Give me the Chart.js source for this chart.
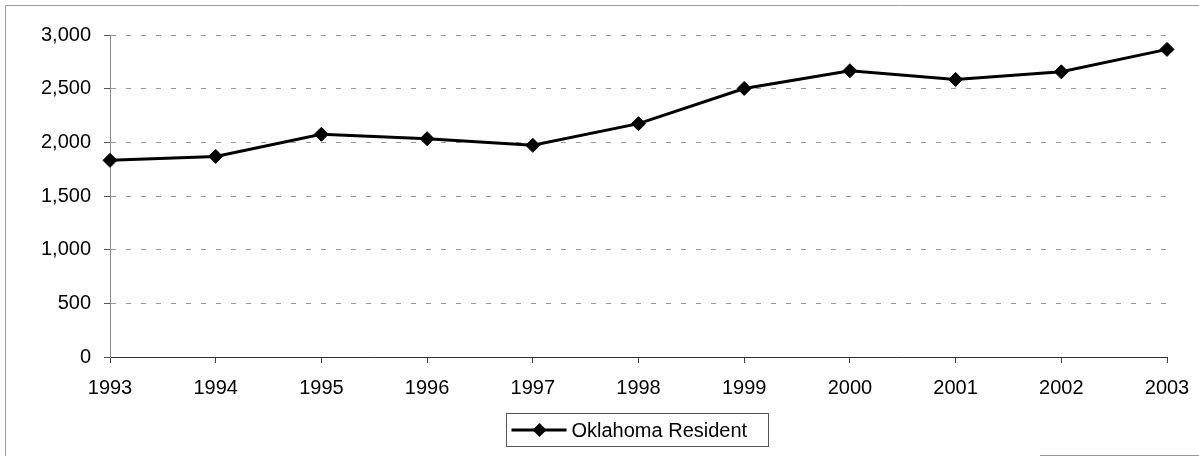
<!DOCTYPE html>
<html>
<head>
<meta charset="utf-8">
<script src="https://cdn.jsdelivr.net/npm/chart.js@4.4.1/dist/chart.umd.min.js"></script>
<style>
  html, body { margin: 0; padding: 0; background: #fff; }
  #wrap { position: relative; width: 1199px; height: 456px; }
</style>
</head>
<body>
<div id="wrap"><canvas id="c" width="1199" height="456"></canvas></div>
<script>
// ---- Data ----
const years = ['1993','1994','1995','1996','1997','1998','1999','2000','2001','2002','2003'];
const seriesName = 'Oklahoma Resident';
const residentValues = [1832, 1869, 2075, 2034, 1972, 2174, 2502, 2667, 2586, 2657, 2866];
const yTicks = [0, 500, 1000, 1500, 2000, 2500, 3000];

const FONT = '"Liberation Sans", Arial, sans-serif';

const framePlugin = {
  id: 'frame',
  beforeDraw(chart) {
    const ctx = chart.ctx;
    ctx.save();
    ctx.fillStyle = '#fff';
    ctx.fillRect(0, 0, chart.width, chart.height);
    ctx.strokeStyle = '#9a9a9a';
    ctx.lineWidth = 1;
    ctx.beginPath();
    ctx.moveTo(5.5, chart.height);
    ctx.lineTo(5.5, 5.5);
    ctx.lineTo(chart.width, 5.5);
    ctx.moveTo(1040, 455.5);
    ctx.lineTo(chart.width, 455.5);
    ctx.stroke();
    ctx.restore();
  }
};

const legendPlugin = {
  id: 'boxLegend',
  afterDraw(chart) {
    const ctx = chart.ctx;
    const ds = chart.data.datasets[0];
    const bx = 506.5, by = 413.5, bw = 262, bh = 33;
    const cy = by + bh / 2;
    ctx.save();
    ctx.strokeStyle = '#555';
    ctx.lineWidth = 1;
    ctx.strokeRect(bx, by, bw, bh);
    ctx.strokeStyle = '#000';
    ctx.lineWidth = 3;
    ctx.beginPath();
    ctx.moveTo(bx + 5, cy);
    ctx.lineTo(bx + 60, cy);
    ctx.stroke();
    const mx = bx + 33;
    ctx.fillStyle = '#000';
    ctx.beginPath();
    ctx.moveTo(mx - 7, cy);
    ctx.lineTo(mx, cy - 7);
    ctx.lineTo(mx + 7, cy);
    ctx.lineTo(mx, cy + 7);
    ctx.closePath();
    ctx.fill();
    ctx.font = '20px ' + FONT;
    ctx.textBaseline = 'middle';
    ctx.textAlign = 'left';
    ctx.fillText(ds.label, bx + 65, cy + 1);
    ctx.restore();
  }
};

new Chart(document.getElementById('c'), {
  type: 'line',
  data: {
    labels: years,
    datasets: [{
      label: seriesName,
      data: residentValues,
      borderColor: '#000',
      backgroundColor: '#000',
      borderWidth: 3,
      pointStyle: 'rectRot',
      pointRadius: 7,
      pointBorderWidth: 1,
      pointBackgroundColor: '#000',
      pointBorderColor: '#000',
      tension: 0,
      fill: false
    }]
  },
  options: {
    responsive: false,
    animation: false,
    devicePixelRatio: 1,
    layout: { padding: { top: 35, right: 32, bottom: 0, left: 0 } },
    plugins: {
      legend: { display: false },
      tooltip: { enabled: false }
    },
    scales: {
      x: {
        type: 'category',
        offset: false,
        afterFit(scale) { scale.height = 99; scale.paddingRight = 0; scale.paddingLeft = 0; },
        grid: {
          display: true,
          drawOnChartArea: false,
          drawTicks: true,
          tickLength: 6,
          tickColor: '#444',
          tickWidth: 1
        },
        border: { display: true, color: '#333', width: 1 },
        ticks: {
          color: '#000',
          font: { family: FONT, size: 20 },
          padding: 13,
          maxRotation: 0,
          autoSkip: false
        }
      },
      y: {
        min: 0,
        max: 3000,
        afterFit(scale) { scale.width = 110; scale.paddingTop = 0; scale.paddingBottom = 0; },
        afterBuildTicks(scale) { scale.ticks = yTicks.map(v => ({ value: v })); },
        grid: {
          display: true,
          color: '#999',
          lineWidth: 1,
          drawTicks: true,
          tickLength: 6,
          tickColor: '#555',
          tickBorderDash: []
        },
        border: { display: true, color: '#888', width: 1, dash: [5, 10] },
        ticks: {
          color: '#000',
          font: { family: FONT, size: 20 },
          padding: 13,
          callback: v => v.toLocaleString('en-US')
        }
      }
    }
  },
  plugins: [framePlugin, legendPlugin]
});
</script>
</body>
</html>
